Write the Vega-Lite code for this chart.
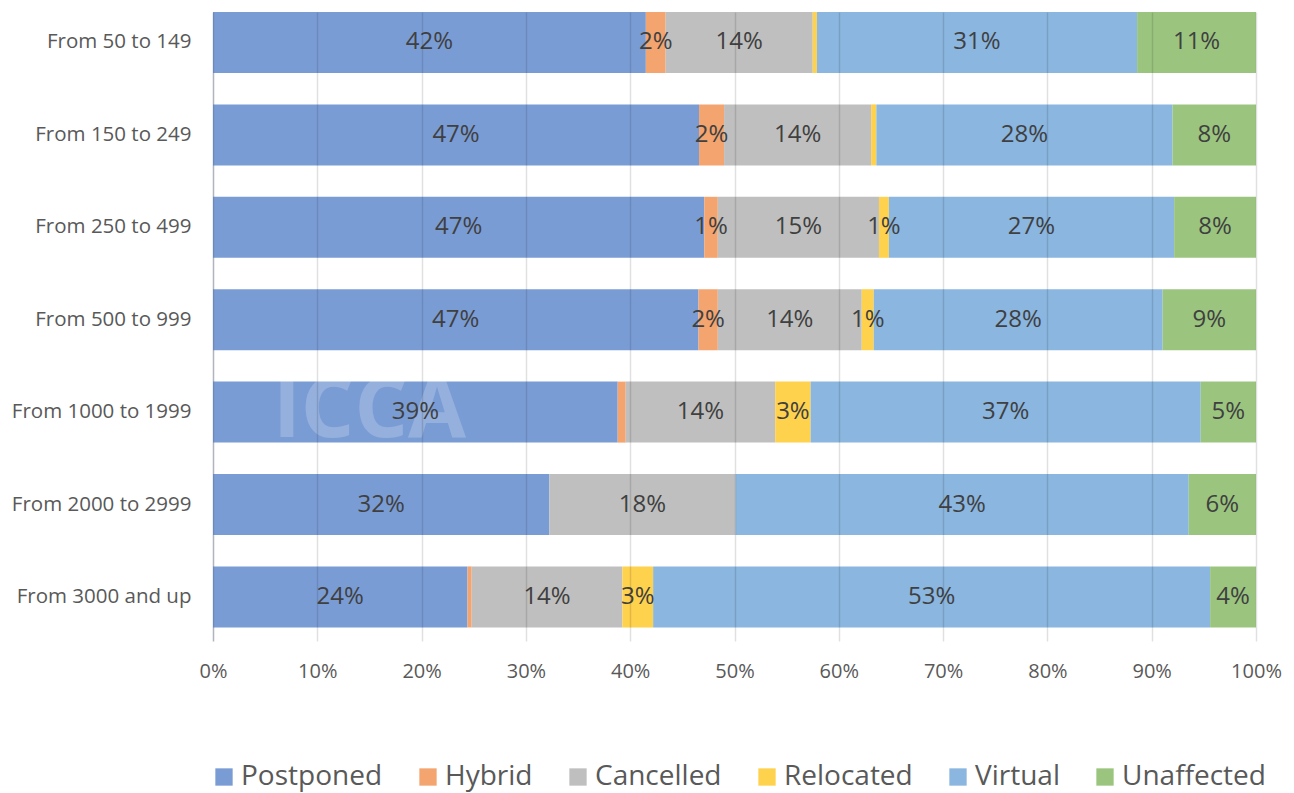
{
  "$schema": "https://vega.github.io/schema/vega-lite/v6.json",
  "width": 1043,
  "height": 629,
  "autosize": {"type": "none"},
  "padding": {"left": 213, "top": 12, "right": 38, "bottom": 152},
  "background": "#ffffff",
  "config": {
    "font": "Open Sans",
    "view": {"stroke": null}
  },
  "data": {
    "values": [
      {"size": "From 50 to 149", "status": "Postponed", "value": 41.5},
      {"size": "From 50 to 149", "status": "Hybrid", "value": 1.9},
      {"size": "From 50 to 149", "status": "Cancelled", "value": 14.1},
      {"size": "From 50 to 149", "status": "Relocated", "value": 0.4},
      {"size": "From 50 to 149", "status": "Virtual", "value": 30.7},
      {"size": "From 50 to 149", "status": "Unaffected", "value": 11.4},
      {"size": "From 150 to 249", "status": "Postponed", "value": 46.6},
      {"size": "From 150 to 249", "status": "Hybrid", "value": 2.4},
      {"size": "From 150 to 249", "status": "Cancelled", "value": 14.1},
      {"size": "From 150 to 249", "status": "Relocated", "value": 0.5},
      {"size": "From 150 to 249", "status": "Virtual", "value": 28.4},
      {"size": "From 150 to 249", "status": "Unaffected", "value": 8.0},
      {"size": "From 250 to 499", "status": "Postponed", "value": 47.1},
      {"size": "From 250 to 499", "status": "Hybrid", "value": 1.3},
      {"size": "From 250 to 499", "status": "Cancelled", "value": 15.45},
      {"size": "From 250 to 499", "status": "Relocated", "value": 0.95},
      {"size": "From 250 to 499", "status": "Virtual", "value": 27.35},
      {"size": "From 250 to 499", "status": "Unaffected", "value": 7.85},
      {"size": "From 500 to 999", "status": "Postponed", "value": 46.55},
      {"size": "From 500 to 999", "status": "Hybrid", "value": 1.85},
      {"size": "From 500 to 999", "status": "Cancelled", "value": 13.8},
      {"size": "From 500 to 999", "status": "Relocated", "value": 1.15},
      {"size": "From 500 to 999", "status": "Virtual", "value": 27.7},
      {"size": "From 500 to 999", "status": "Unaffected", "value": 8.95},
      {"size": "From 1000 to 1999", "status": "Postponed", "value": 38.8},
      {"size": "From 1000 to 1999", "status": "Hybrid", "value": 0.77},
      {"size": "From 1000 to 1999", "status": "Cancelled", "value": 14.33},
      {"size": "From 1000 to 1999", "status": "Relocated", "value": 3.4},
      {"size": "From 1000 to 1999", "status": "Virtual", "value": 37.4},
      {"size": "From 1000 to 1999", "status": "Unaffected", "value": 5.3},
      {"size": "From 2000 to 2999", "status": "Postponed", "value": 32.25},
      {"size": "From 2000 to 2999", "status": "Hybrid", "value": 0},
      {"size": "From 2000 to 2999", "status": "Cancelled", "value": 17.85},
      {"size": "From 2000 to 2999", "status": "Relocated", "value": 0},
      {"size": "From 2000 to 2999", "status": "Virtual", "value": 43.45},
      {"size": "From 2000 to 2999", "status": "Unaffected", "value": 6.45},
      {"size": "From 3000 and up", "status": "Postponed", "value": 24.4},
      {"size": "From 3000 and up", "status": "Hybrid", "value": 0.4},
      {"size": "From 3000 and up", "status": "Cancelled", "value": 14.45},
      {"size": "From 3000 and up", "status": "Relocated", "value": 2.95},
      {"size": "From 3000 and up", "status": "Virtual", "value": 53.4},
      {"size": "From 3000 and up", "status": "Unaffected", "value": 4.4}
    ]
  },
  "transform": [
    {"calculate": "indexof(['Postponed','Hybrid','Cancelled','Relocated','Virtual','Unaffected'], datum.status)", "as": "ord"},
    {"stack": "value", "groupby": ["size"], "sort": [{"field": "ord", "order": "ascending"}], "as": ["x0", "x1"]},
    {"calculate": "(datum.x0 + datum.x1) / 2", "as": "xmid"},
    {"calculate": "format(datum.value, '.0f') + '%'", "as": "label"}
  ],
  "encoding": {
    "y": {
      "field": "size",
      "type": "nominal",
      "scale": {
        "domain": ["From 50 to 149", "From 150 to 249", "From 250 to 499", "From 500 to 999", "From 1000 to 1999", "From 2000 to 2999", "From 3000 and up"],
        "paddingInner": 0.34, "paddingOuter": 0.0735, "align": 0
      },
      "axis": {
        "title": null,
        "domain": true,
        "domainColor": "#C8CDD8",
        "domainWidth": 1.5,
        "ticks": false,
        "labelFont": "Open Sans",
        "labelFontSize": 20.5,
        "labelColor": "#595959",
        "labelPadding": 22,
        "labelLimit": 300
      }
    }
  },
  "layer": [
    {
      "mark": {"type": "bar"},
      "encoding": {
        "x": {
          "field": "x0",
          "type": "quantitative",
          "scale": {"domain": [0, 100], "nice": false},
          "axis": {
            "title": null,
            "values": [0, 10, 20, 30, 40, 50, 60, 70, 80, 90, 100],
            "labelExpr": "datum.value + '%'",
            "domain": false,
            "ticks": false,
            "grid": true,
            "gridColor": "#000000",
            "gridOpacity": 0.12,
            "gridWidth": 1.5,
            "zindex": 1,
            "labelFont": "Open Sans",
            "labelFontSize": 20,
            "labelColor": "#595959",
            "labelPadding": 20,
            "labelFlush": false
          }
        },
        "x2": {"field": "x1"},
        "color": {
          "field": "status",
          "type": "nominal",
          "sort": ["Postponed", "Hybrid", "Cancelled", "Relocated", "Virtual", "Unaffected"],
          "scale": {
            "domain": ["Postponed", "Hybrid", "Cancelled", "Relocated", "Virtual", "Unaffected"],
            "range": ["#7A9CD5", "#F3A46F", "#BFBFBF", "#FFD24D", "#8AB6E0", "#9BC57F"]
          },
          "legend": {
            "title": null,
            "orient": "none",
            "direction": "horizontal",
            "columns": 6,
            "legendX": -3,
            "legendY": 751,
            "symbolType": "square",
            "symbolSize": 300,
            "symbolStrokeWidth": 0,
            "labelFont": "Open Sans",
            "labelFontSize": 28,
            "labelColor": "#595959",
            "labelOffset": 3,
            "columnPadding": 31,
            "labelLimit": 400
          }
        }
      }
    },
    {
      "data": {"values": [{"mark": "ICCA", "pos": 15.0, "size": "From 1000 to 1999"}]},
      "mark": {"type": "text", "font": "Open Sans", "fontWeight": "bold", "fontSize": 84, "color": "#ffffff", "opacity": 0.2, "align": "center", "baseline": "middle"},
      "encoding": {
        "x": {"field": "pos", "type": "quantitative"},
        "text": {"field": "mark", "type": "nominal"}
      }
    },
    {
      "transform": [{"filter": "datum.value >= 0.9"}],
      "mark": {"type": "text", "font": "Open Sans", "fontSize": 24, "color": "#404040", "align": "center", "baseline": "middle"},
      "encoding": {
        "x": {"field": "xmid", "type": "quantitative"},
        "text": {"field": "label", "type": "nominal"}
      }
    }
  ]
}
